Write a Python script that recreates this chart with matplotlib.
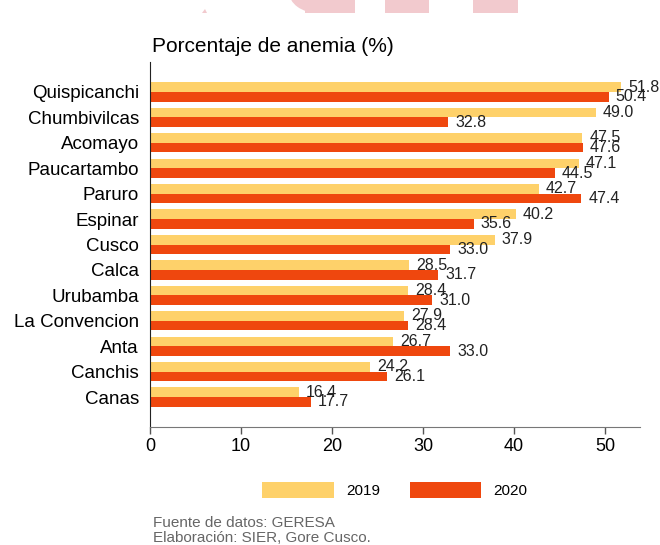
import matplotlib
matplotlib.use("Agg")
import matplotlib.pyplot as plt
import matplotlib.patches as mpatches
import numpy as np

plt.rcParams['font.family'] = ['Liberation Sans', 'DejaVu Sans']

provincias = ["Quispicanchi", "Chumbivilcas", "Acomayo", "Paucartambo", "Paruro",
              "Espinar", "Cusco", "Calca", "Urubamba", "La Convencion", "Anta",
              "Canchis", "Canas"]
v2019 = [51.8, 49.0, 47.5, 47.1, 42.7, 40.2, 37.9, 28.5, 28.4, 27.9, 26.7, 24.2, 16.4]
v2020 = [50.4, 32.8, 47.6, 44.5, 47.4, 35.6, 33.0, 31.7, 31.0, 28.4, 33.0, 26.1, 17.7]
xticks = [0, 10, 20, 30, 40, 50]

C2019 = '#FED16A'
C2020 = '#EF470E'

W, H = 660, 545
fig = plt.figure(figsize=(W/100, H/100), dpi=100)

# faint watermark fragments at the top
pink = '#F2CACE'
def fx(x): return x / W
def fy(y): return 1 - y / H
fig.patches.append(mpatches.Rectangle((fx(305), fy(13)), fx(50), 13/H, transform=fig.transFigure, color=pink, lw=0))
fig.patches.append(mpatches.Ellipse((fx(318), fy(-8)), 58/W, 42/H, transform=fig.transFigure, color=pink, lw=0))
fig.patches.append(mpatches.Rectangle((fx(385), fy(13)), fx(44), 13/H, transform=fig.transFigure, color=pink, lw=0))
fig.patches.append(mpatches.Rectangle((fx(473), fy(13)), fx(45), 13/H, transform=fig.transFigure, color=pink, lw=0))
fig.patches.append(mpatches.Polygon([(fx(202), fy(13)), (fx(207), fy(13)), (fx(205), fy(9))], closed=True,
                                    transform=fig.transFigure, color=pink, lw=0))

ax = fig.add_axes([150/W, 1 - 427/H, 490/W, (427 - 62)/H])

y = np.arange(len(provincias))
h = 0.38
b1 = ax.barh(y - h/2, v2019, height=h, color=C2019, label='2019')
b2 = ax.barh(y + h/2, v2020, height=h, color=C2020, label='2020')

for yi, v in zip(y, v2019):
    ax.annotate(f"{v:.1f}", (v, yi - h/2), xytext=(5, 0), textcoords='offset points',
                va='center', ha='left', fontsize=11.5, color='#222222')
for yi, v in zip(y, v2020):
    ax.annotate(f"{v:.1f}", (v, yi + h/2), xytext=(5, 0), textcoords='offset points',
                va='center', ha='left', fontsize=11.5, color='#222222')

ax.set_xlim(0, 53.85)
ax.set_ylim(13.18, -1.18)
ax.set_yticks(y)
ax.set_yticklabels(provincias, fontsize=13.5)
ax.set_xticks(xticks)
ax.set_xticklabels([str(t) for t in xticks], fontsize=13)
ax.tick_params(axis='y', length=0, pad=8)
ax.tick_params(axis='x', length=5, width=1, color='#555555', pad=3)
for s in ['top', 'right']:
    ax.spines[s].set_visible(False)
ax.spines['left'].set_color('#222222')
ax.spines['bottom'].set_color('#777777')

fig.text(152/W, 1 - 46/H, "Porcentaje de anemia (%)", fontsize=15, va='center', ha='left')

leg = fig.legend(handles=[b1, b2], labels=['2019', '2020'], loc='center',
                 bbox_to_anchor=(395/W, 1 - 490/H), ncol=2, frameon=False,
                 handlelength=4.7, handleheight=1.3, columnspacing=1.9, handletextpad=0.8,
                 fontsize=11)

fig.text(153/W, 1 - 523/H, "Fuente de datos: GERESA", fontsize=11, color='#666666', va='center')
fig.text(153/W, 1 - 538/H, "Elaboración: SIER, Gore Cusco.", fontsize=11, color='#666666', va='center')

fig.savefig("out.png", dpi=100)
